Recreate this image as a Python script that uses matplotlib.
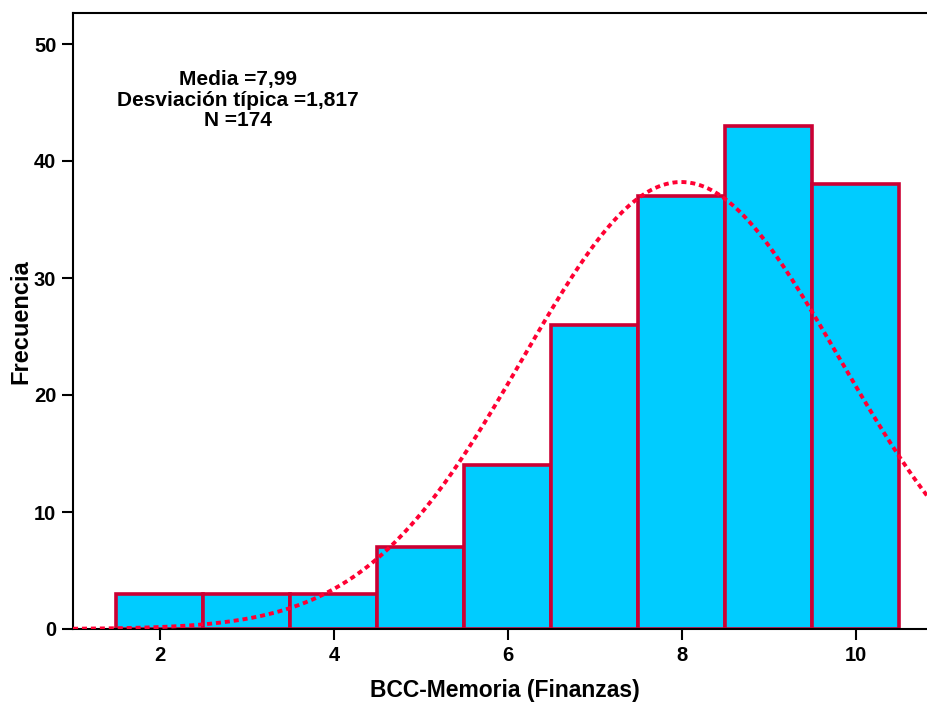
import numpy as np
import matplotlib
matplotlib.use("Agg")
import matplotlib.pyplot as plt

bin_centers = [2, 3, 4, 5, 6, 7, 8, 9, 10]
counts = [3, 3, 3, 7, 14, 26, 37, 43, 38]
mean_val = 7.99
sd_val = 1.817
n_val = 174
bin_width = 1.0
xticks = [2, 4, 6, 8, 10]
yticks = [0, 10, 20, 30, 40, 50]

plt.rcParams['font.family'] = ['Liberation Sans', 'DejaVu Sans']
plt.rcParams['font.weight'] = 'bold'

fig = plt.figure(figsize=(9.28, 7.06), dpi=100)
W, H = 928, 706
left_px, bottom_px, top_px = 73, 629, 12.5
ax_w = 10 * 87 / W
ax = fig.add_axes([left_px / W, (H - bottom_px) / H, ax_w, (bottom_px - top_px) / H])

ax.bar(bin_centers, counts, width=bin_width, color='#00CCFF', edgecolor='#CC0033',
       linewidth=2.6, zorder=2)

xs = np.linspace(1, 11, 500)
pdf = n_val * bin_width / (sd_val * np.sqrt(2 * np.pi)) * np.exp(-0.5 * ((xs - mean_val) / sd_val) ** 2)
ax.plot(xs, pdf, color='#FF0033', linestyle=(0, (1.3, 1.0)), linewidth=2.8, zorder=3,
        clip_on=True)

ax.set_xlim(1, 11)
ax.set_ylim(0, (bottom_px - top_px) / 11.7)
ax.set_xticks(xticks)
ax.set_yticks(yticks)
ax.tick_params(axis='both', direction='out', length=8, width=1.5, labelsize=14.5, pad=4)
for lab in ax.get_xticklabels() + ax.get_yticklabels():
    lab.set_fontweight('bold')
for s in ['left', 'bottom', 'top', 'right']:
    ax.spines[s].set_linewidth(1.5)
    ax.spines[s].set_color('black')

fig.text(505 / W, 1 - 690 / H, 'BCC-Memoria (Finanzas)', ha='center', va='center',
         fontsize=16.5, fontweight='bold')
fig.text(21 / W, 1 - 322 / H, 'Frecuencia', ha='center', va='center', rotation=90,
         fontsize=17, fontweight='bold')

ax.text(2.9, 45.2, 'Media =7,99\nDesviación típica =1,817\nN =174', ha='center', va='center',
        fontsize=15, fontweight='bold', linespacing=1.12)

fig.savefig('out.png', dpi=100)
